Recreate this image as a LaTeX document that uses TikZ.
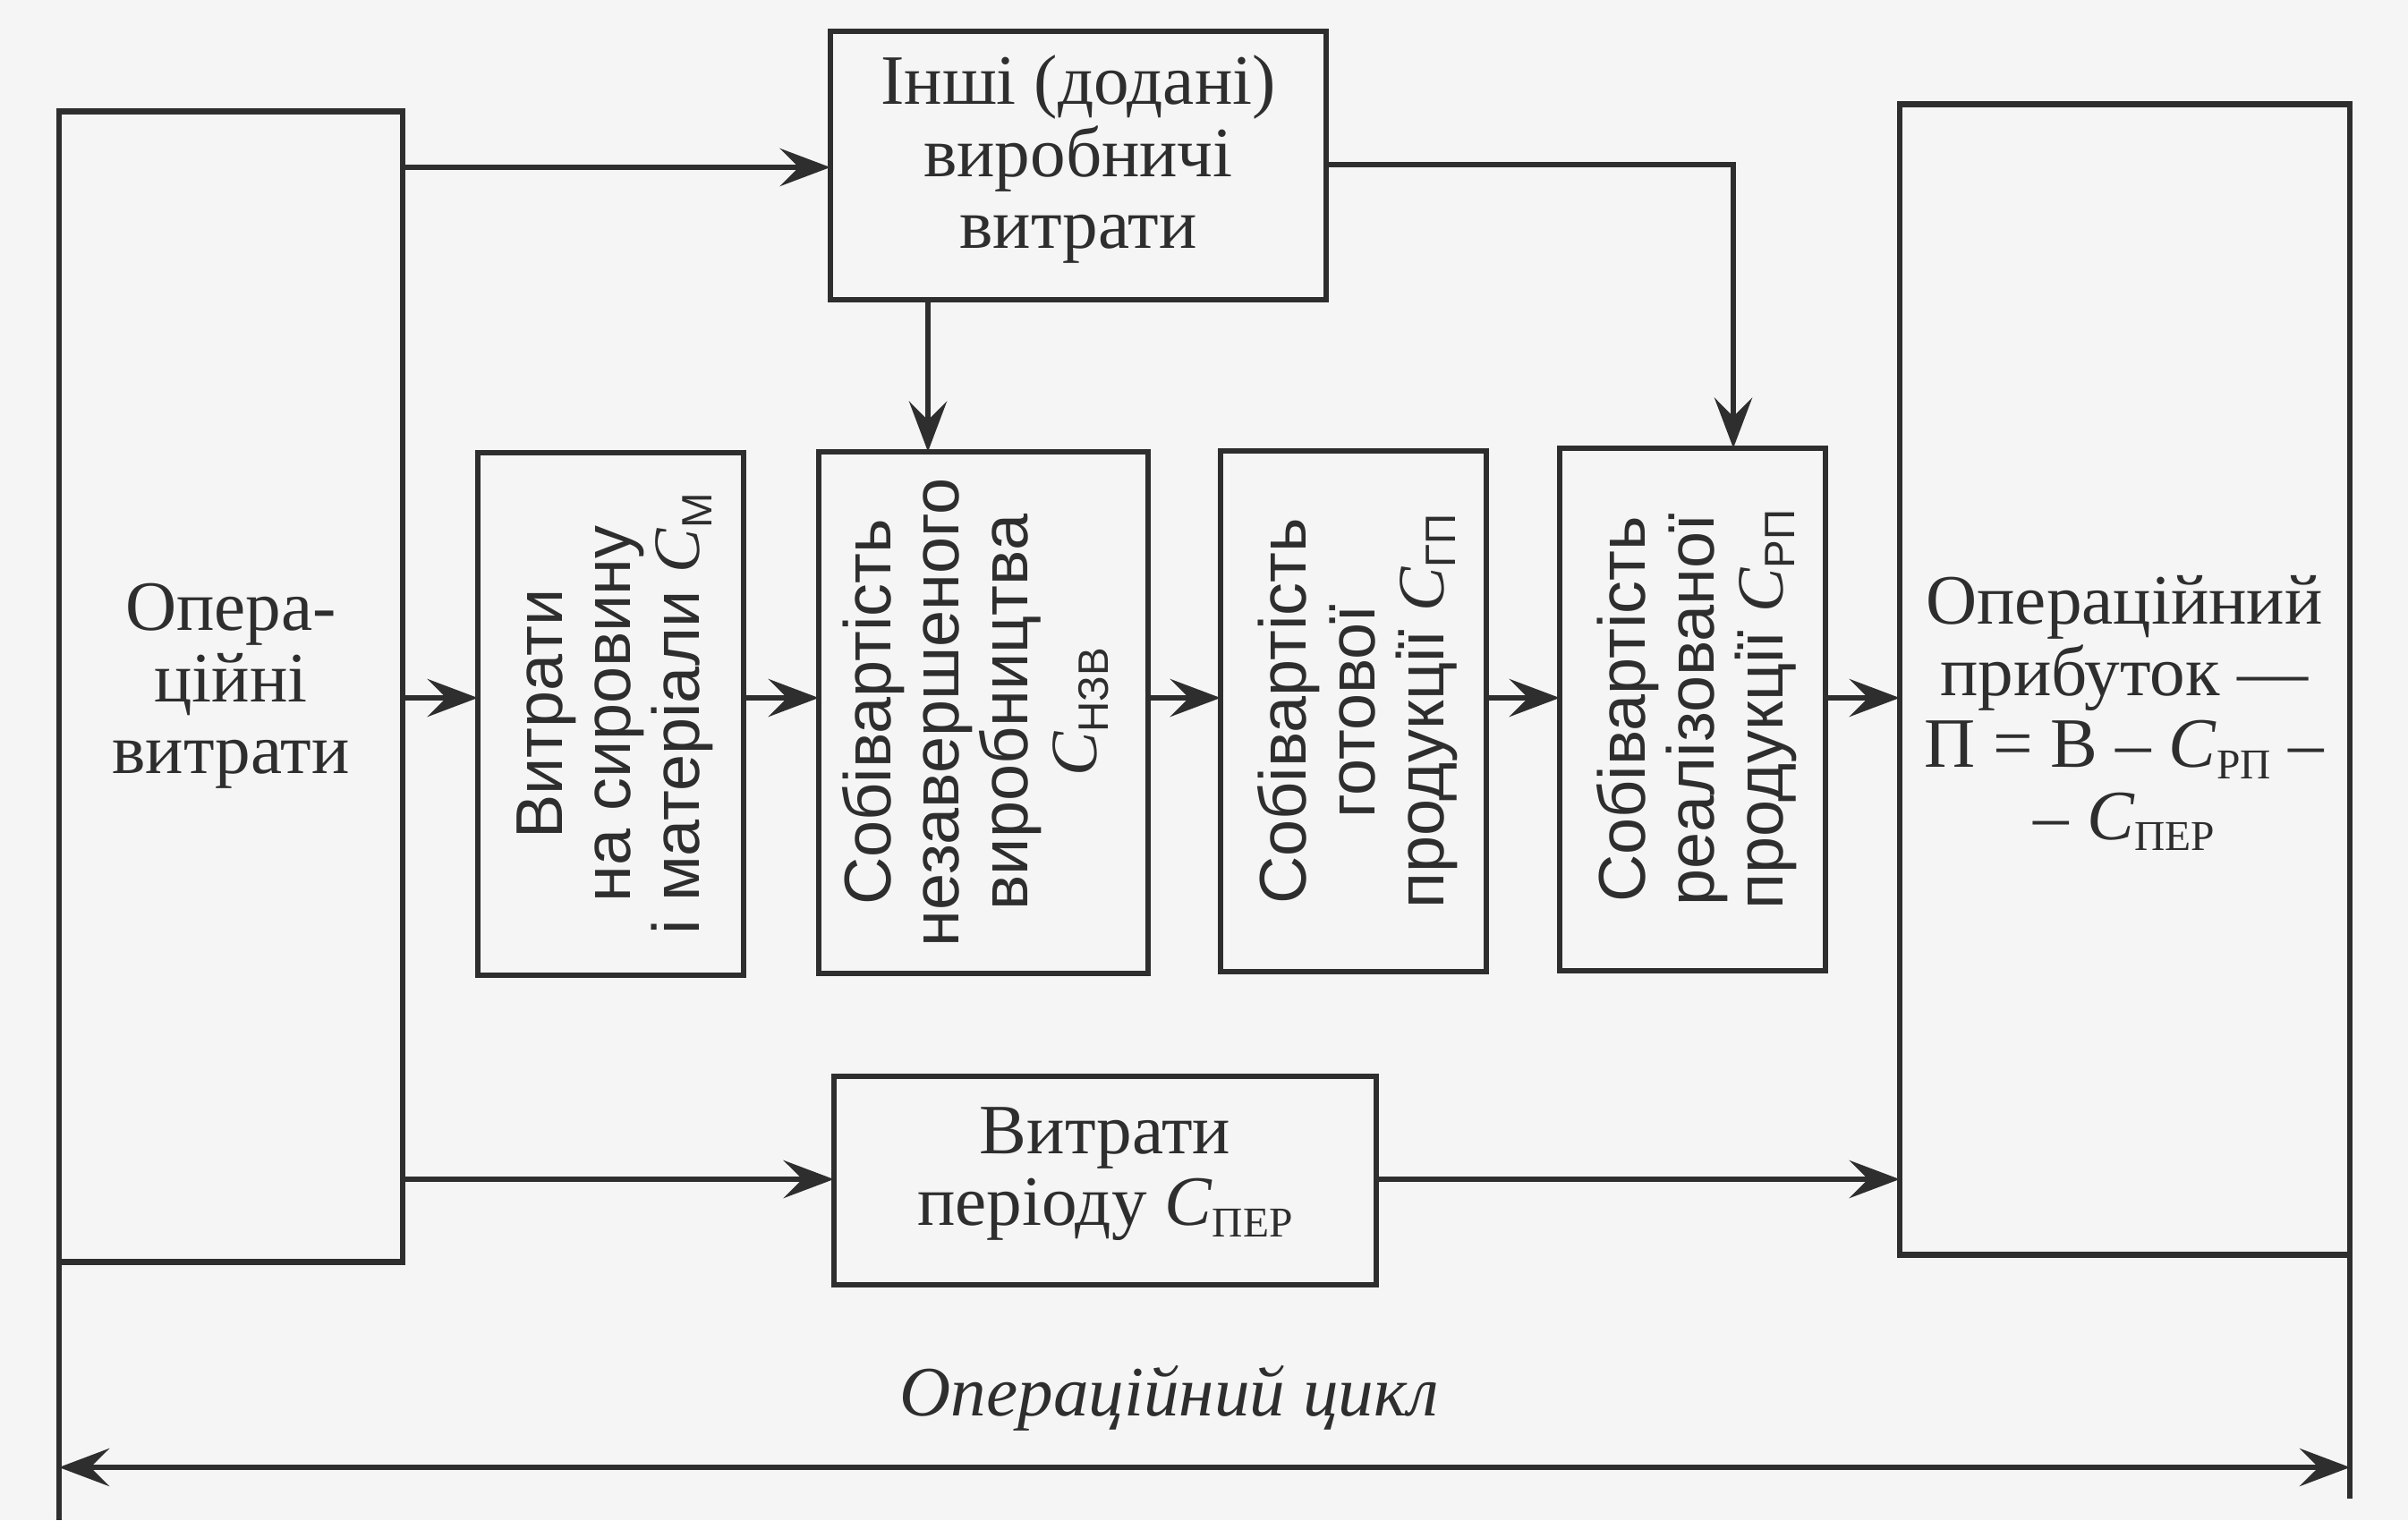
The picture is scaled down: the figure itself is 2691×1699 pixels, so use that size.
\documentclass[tikz,border=0pt]{standalone}
\usepackage{fontspec}
\setmainfont{Liberation Serif}
\newfontfamily\boxsans{Liberation Sans}
\usetikzlibrary{arrows.meta,calc}
\definecolor{ink}{HTML}{2E2E2E}
\definecolor{paper}{HTML}{F5F5F5}
\newcommand\subs[1]{\raisebox{-0.35ex}{\fontsize{13.5}{13.5}\selectfont #1}}
\newcommand\vC{{\rmfamily\itshape C}}
\begin{document}
\begin{tikzpicture}[x=0.01cm,y=-0.01cm,
  box/.style={draw=ink, line width=1.8pt, inner sep=0pt, outer sep=0pt},
  lbl/.style={text=ink, align=center, inner sep=0pt, font=\fontsize{22.5}{22.8}\selectfont},
  vlbl/.style={text=ink, align=center, inner sep=0pt, rotate=90, font=\boxsans\fontsize{21}{21.8}\selectfont},
  conn/.style={draw=ink, line width=1.8pt, -{Stealth[length=16pt,width=12pt,inset=6pt]}},
  dbl/.style={draw=ink, line width=1.8pt, {Stealth[length=16pt,width=12pt,inset=6pt]}-{Stealth[length=16pt,width=12pt,inset=6pt]}},
  plain/.style={draw=ink, line width=1.8pt}
]
\fill[paper] (0,0) rectangle (2691,1699);
\useasboundingbox (0,0) rectangle (2691,1699);

% boxes
\node[box, minimum width=3.84cm, minimum height=12.85cm] (ops) at (258,767.5) {};
\node[box, minimum width=5.54cm, minimum height=3.00cm] (oth) at (1205,185) {};
\node[box, minimum width=2.97cm, minimum height=5.84cm] (b2) at (682.5,798) {};
\node[box, minimum width=3.68cm, minimum height=5.83cm] (b3) at (1099,796.5) {};
\node[box, minimum width=2.97cm, minimum height=5.82cm] (b4) at (1512.5,795) {};
\node[box, minimum width=2.97cm, minimum height=5.84cm] (b5) at (1891.5,793) {};
\node[box, minimum width=5.03cm, minimum height=12.85cm] (res) at (2374.5,759.5) {};
\node[box, minimum width=6.06cm, minimum height=2.33cm] (per) at (1235,1319.5) {};

% labels
\node[lbl] (opst) at (258,767) {Опера-\\ційні\\витрати};
\node[lbl] (otht) at (1205,178) {Інші (додані)\\виробничі\\витрати};
\node[vlbl] (b2t) at (687,798) {Витрати\\на сировину\\і матеріали \vC\subs{М}};
\node[vlbl] (b3t) at (1090,796) {Собівартість\\незавершеного\\виробництва\\\vC\subs{НЗВ}};
\node[vlbl] (b4t) at (1517,795) {Собівартість\\готової\\продукції \vC\subs{ГП}};
\node[vlbl] (b5t) at (1896,793) {Собівартість\\реалізованої\\продукції \vC\subs{РП}};
\node[lbl] (rest) at (2374,797) {Операційний\\прибуток —\\П = В – \textit{C}\subs{РП} –\\– \textit{C}\subs{ПЕР}};
\node[lbl] (pert) at (1235,1312) {Витрати\\періоду \textit{C}\subs{ПЕР}};
\node[lbl, font=\fontsize{22.5}{22.8}\selectfont\itshape] (cyc) at (1307,1563) {Операційний цикл};

% helper coordinates
\coordinate (yTop) at (0,187);
\coordinate (yR) at (0,184);
\coordinate (xA) at (1037,0);
\coordinate (xB) at (1937,0);
\coordinate (yMid) at (0,780);
\coordinate (yLow) at (0,1318);
\coordinate (yCyc) at (0,1640);
\coordinate (yBotL) at (0,1699);
\coordinate (yBotR) at (0,1675);

% connectors
\draw[conn] (ops.east |- yTop) -- (oth.west |- yTop);
\draw[conn] (oth.south -| xA) -- (b3.north -| xA);
\draw[conn] (oth.east |- yR) -| (b5.north -| xB);
\draw[conn] (ops.east |- yMid) -- (b2.west |- yMid);
\draw[conn] (b2.east |- yMid) -- (b3.west |- yMid);
\draw[conn] (b3.east |- yMid) -- (b4.west |- yMid);
\draw[conn] (b4.east |- yMid) -- (b5.west |- yMid);
\draw[conn] (b5.east |- yMid) -- (res.west |- yMid);
\draw[conn] (ops.east |- yLow) -- (per.west |- yLow);
\draw[conn] (per.east |- yLow) -- (res.west |- yLow);

% cycle bounds and arrow
\draw[plain] (ops.south west) -- (ops.south west |- yBotL);
\draw[plain] (res.south east) -- (res.south east |- yBotR);
\draw[dbl] (ops.west |- yCyc) -- (res.east |- yCyc);
\end{tikzpicture}
\end{document}
